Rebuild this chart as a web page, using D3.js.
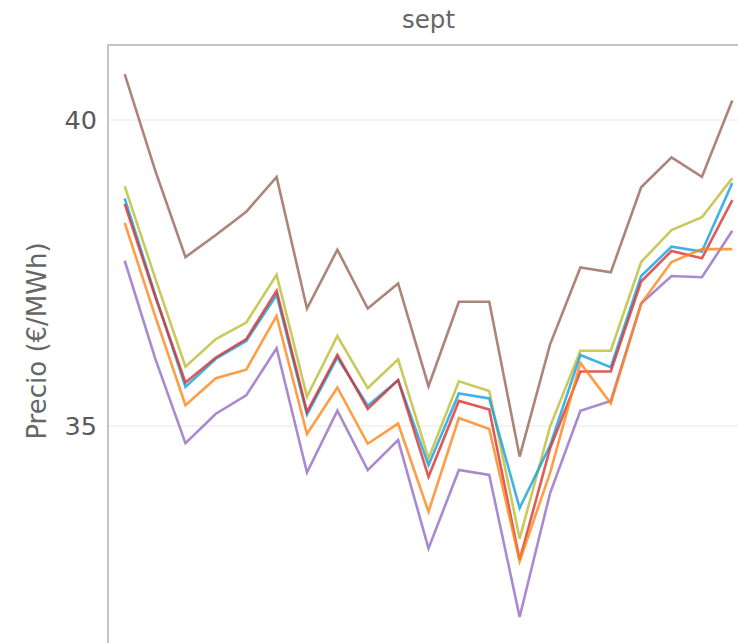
<!DOCTYPE html>
<html>
<head>
<meta charset="utf-8">
<script src="https://cdn.jsdelivr.net/npm/d3@7"></script>
<style>
  html, body { margin: 0; padding: 0; background: #ffffff; overflow: hidden; }
  svg { display: block; }
</style>
</head>
<body>
<script>
// ---- data ----
const points = d3.range(1, 22);           // 21 x positions
const seriesNames = ["serie A", "serie B", "serie C", "serie D", "serie E", "serie F"];
const seriesColors = ["#976556", "#946dc4", "#bbbc33", "#0fa0de", "#d83131", "#ff8519"];
const brownVals  = [40.75, 39.18, 37.76, 38.12, 38.50, 39.07, 36.92, 37.88, 36.92, 37.33, 35.65, 37.03, 37.03, 34.50, 36.33, 37.59, 37.51, 38.90, 39.39, 39.07, 40.32];
const purpleVals = [37.70, 36.11, 34.72, 35.20, 35.50, 36.27, 34.24, 35.25, 34.28, 34.77, 33.00, 34.28, 34.20, 31.88, 33.90, 35.25, 35.41, 37.00, 37.45, 37.43, 38.19];
const oliveVals  = [38.92, 37.42, 35.97, 36.42, 36.69, 37.47, 35.48, 36.47, 35.62, 36.09, 34.47, 35.73, 35.57, 33.16, 34.99, 36.23, 36.23, 37.68, 38.20, 38.41, 39.05];
const blueVals   = [38.72, 37.15, 35.64, 36.10, 36.39, 37.14, 35.19, 36.12, 35.33, 35.75, 34.36, 35.53, 35.45, 33.66, 34.68, 36.16, 35.96, 37.45, 37.93, 37.85, 38.97];
const redVals    = [38.63, 37.12, 35.71, 36.12, 36.42, 37.21, 35.23, 36.16, 35.28, 35.75, 34.17, 35.41, 35.27, 32.81, 34.63, 35.89, 35.89, 37.36, 37.86, 37.74, 38.69];
const orangeVals = [38.32, 36.80, 35.34, 35.78, 35.92, 36.80, 34.87, 35.63, 34.71, 35.04, 33.60, 35.13, 34.95, 32.79, 34.23, 36.03, 35.37, 37.00, 37.68, 37.89, 37.89];
const yTickValues = [35, 40];
const facetTitle = "sept";
const yLabel = "Precio (€/MWh)";

const allSeries = [brownVals, purpleVals, oliveVals, blueVals, redVals, orangeVals];

// ---- layout ----
const W = 738, H = 643;
const plotLeft = 108, plotTop = 45, plotRight = 749, plotBottom = 760;
const FONT = "DejaVu Sans, Verdana, sans-serif";

const svg = d3.select("body").append("svg").attr("width", W).attr("height", H);

const x = d3.scalePoint().domain(points).range([plotLeft, plotRight]).padding(0.55);
const y = d3.scaleLinear().domain([35, 40]).range([426, 120]);

// gridlines
svg.append("g")
  .selectAll("line").data(yTickValues).join("line")
  .attr("x1", plotLeft).attr("x2", plotRight)
  .attr("y1", d => y(d)).attr("y2", d => y(d))
  .attr("stroke", "#efefef").attr("stroke-width", 1.5);

// frame
svg.append("rect")
  .attr("x", plotLeft).attr("y", plotTop)
  .attr("width", plotRight - plotLeft).attr("height", plotBottom - plotTop)
  .attr("fill", "none").attr("stroke", "#c4c4c4").attr("stroke-width", 2);

// y axis
const yAxis = d3.axisLeft(y).tickValues(yTickValues).tickSize(0).tickPadding(11).tickFormat(d3.format("d"));
const gy = svg.append("g").attr("transform", `translate(${plotLeft},0)`).call(yAxis);
gy.select(".domain").remove();
gy.selectAll("text")
  .attr("font-family", FONT)
  .attr("font-size", 25.5).attr("fill", "#5a5a5a");

// lines
const line = d3.line().x((d, i) => x(points[i])).y(d => y(d));
svg.append("g")
  .selectAll("path").data(allSeries).join("path")
  .attr("d", d => line(d))
  .attr("fill", "none")
  .attr("stroke", (d, i) => seriesColors[i])
  .attr("stroke-opacity", 0.8)
  .attr("stroke-width", 2.6)
  .attr("stroke-linejoin", "miter");

// title
svg.append("text")
  .attr("x", (plotLeft + plotRight) / 2).attr("y", 28)
  .attr("text-anchor", "middle")
  .attr("font-family", FONT)
  .attr("font-size", 24.5).attr("fill", "#666")
  .text(facetTitle);

// y label
svg.append("text")
  .attr("transform", `translate(46, 341) rotate(-90)`)
  .attr("text-anchor", "middle")
  .attr("font-family", FONT)
  .attr("font-size", 26).attr("fill", "#666")
  .text(yLabel);
</script>
</body>
</html>
